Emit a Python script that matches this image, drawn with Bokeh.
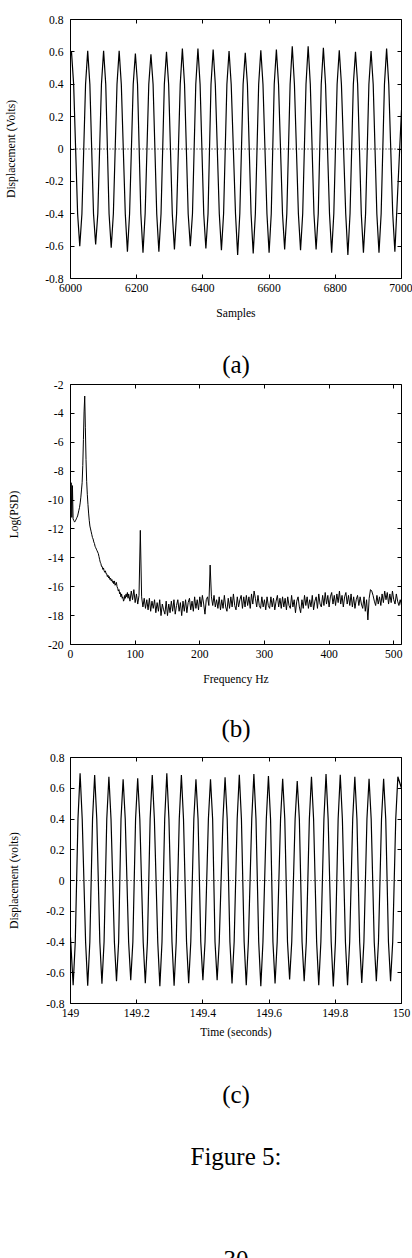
import numpy as np
from bokeh.plotting import figure
from bokeh.layouts import column
from bokeh.models import Range1d, LinearAxis, FixedTicker, CustomJSTickFormatter, Span
from bokeh.core.properties import value
from bokeh.embed import file_html
from bokeh.resources import INLINE

# ---------------- data ----------------
# (a) displacement vs samples : extrema
a_edge_x = [6000, 7000]
a_edge_y = [0.58, 0.24]
a_peak_x = [6003, 6052, 6100, 6147, 6196, 6243, 6290, 6338, 6385, 6431, 6479,
            6528, 6575, 6622, 6670, 6718, 6764, 6812, 6861, 6908, 6955]
a_peak_y = [0.600, 0.606, 0.606, 0.606, 0.590, 0.585, 0.600, 0.620, 0.620, 0.615, 0.605,
            0.595, 0.610, 0.615, 0.635, 0.635, 0.625, 0.610, 0.600, 0.605, 0.620]
a_trough_x = [6028, 6076, 6123, 6172, 6219, 6267, 6314, 6362, 6409, 6456, 6505,
              6552, 6600, 6647, 6695, 6742, 6789, 6838, 6885, 6932, 6980]
a_trough_y = [-0.600, -0.590, -0.610, -0.635, -0.640, -0.635, -0.620, -0.600, -0.615, -0.625, -0.655,
              -0.645, -0.640, -0.620, -0.625, -0.620, -0.640, -0.655, -0.640, -0.640, -0.635]
# width of each lobe where it crosses the +/-0.4 V level
a_flank_level = 0.4
a_flank_halfwidth = 6.5

# (b) log(PSD) vs frequency
psd_low_freq = list(range(0, 90))          # 1 Hz bins
psd_low_val = [
    -11.0, -8.8, -11.2, -9.0, -11.3, -11.4, -11.5, -11.5, -11.4, -11.3,
    -11.2, -11.1, -10.9, -10.7, -10.5, -10.2, -9.8, -9.3, -8.8, -7.6,
    -5.8, -3.9, -2.8, -5.0, -7.2, -8.7, -9.6, -10.3, -10.9, -11.4,
    -11.8, -12.0, -12.2, -12.4, -12.6, -12.7, -12.9, -13.0, -13.2, -13.3,
    -13.4, -13.5, -13.6, -13.7, -13.9, -14.1, -14.3, -14.4, -14.6, -14.6,
    -14.8, -14.7, -14.9, -15.0, -14.9, -15.1, -15.1, -15.3, -15.2, -15.4,
    -15.3, -15.5, -15.4, -15.6, -15.5, -15.7, -15.6, -15.8, -15.6, -15.9,
    -15.8, -15.7, -16.0, -16.1, -16.3, -16.2, -16.5, -16.4, -16.7, -16.5,
    -16.8, -16.7, -17.0, -16.9, -16.6, -16.8, -16.5, -16.7, -16.4, -16.8,
]
psd_high_freq = list(range(90, 513, 2))    # 2 Hz bins
psd_high_val = [
    -16.5, -17.0, -16.3, -16.9, -16.2, -17.1, -16.5, -17.2, -16.6, -12.1,
    -16.7, -17.4, -16.8, -17.5, -16.9, -17.6, -16.8, -17.7, -17.0, -17.5,
    -16.9, -17.8, -17.1, -17.7, -16.9, -18.0, -17.2, -17.6, -17.9, -17.0,
    -18.0, -17.2, -17.8, -17.0, -17.7, -16.9, -17.9, -17.3, -16.9, -17.7,
    -17.1, -18.0, -17.0, -17.7, -16.9, -17.8, -17.1, -16.8, -17.6, -17.0,
    -17.7, -16.7, -17.5, -16.9, -17.6, -16.7, -17.4, -16.6, -17.2, -17.9,
    -16.9, -16.7, -17.3, -14.5, -16.7, -17.3, -16.6, -17.4, -16.9, -17.5,
    -16.7, -17.6, -16.9, -17.5, -16.6, -17.4, -17.7, -16.8, -17.5, -16.7,
    -17.4, -16.5, -17.3, -17.6, -16.7, -17.4, -16.9, -16.6, -17.5, -16.7,
    -17.4, -16.6, -17.3, -16.7, -17.5, -16.5, -17.2, -16.3, -16.8, -17.4,
    -16.6, -17.3, -17.5, -16.7, -17.4, -16.9, -17.6, -16.7, -17.3, -17.5,
    -16.7, -17.4, -16.8, -17.6, -17.0, -16.6, -17.4, -16.8, -17.5, -16.7,
    -17.4, -16.8, -17.6, -16.7, -17.3, -17.5, -16.6, -17.4, -16.9, -17.8,
    -17.0, -16.7, -17.4, -17.8, -16.9, -17.5, -16.6, -17.3, -16.7, -17.5,
    -16.9, -17.4, -16.6, -17.6, -17.0, -16.7, -17.5, -16.5, -17.2, -17.4,
    -16.6, -17.3, -16.4, -17.2, -16.6, -17.4, -16.7, -16.4, -17.2, -16.6,
    -17.3, -16.5, -17.1, -16.3, -17.2, -16.6, -17.4, -16.7, -16.4, -17.2,
    -16.6, -17.3, -16.5, -17.4, -16.7, -17.5, -16.9, -16.6, -17.3, -16.7,
    -17.2, -17.5, -16.7, -17.7, -16.9, -18.3, -16.8, -16.2, -16.3, -16.6,
    -17.0, -17.3, -16.6, -17.2, -16.7, -17.3, -16.5, -17.1, -16.3, -16.9,
    -16.4, -17.2, -16.5, -17.1, -16.3, -16.9, -17.2, -16.5, -17.0, -17.3,
    -16.9, -17.3,
]

# (c) displacement vs time : extrema
c_edge_t = [149.0, 150.0]
c_edge_v = [-0.37, 0.60]
c_peak_t = [149.029, 149.073, 149.116, 149.159, 149.203, 149.247, 149.291, 149.335,
            149.379, 149.423, 149.467, 149.510, 149.554, 149.598, 149.641, 149.685,
            149.728, 149.772, 149.815, 149.859, 149.902, 149.946, 149.989]
c_peak_v = [0.697, 0.686, 0.675, 0.658, 0.665, 0.686, 0.697, 0.686, 0.658, 0.658, 0.671,
            0.688, 0.692, 0.680, 0.662, 0.647, 0.675, 0.692, 0.688, 0.675, 0.662, 0.662, 0.675]
c_trough_t = [149.008, 149.052, 149.095, 149.139, 149.182, 149.226, 149.270, 149.313,
              149.357, 149.400, 149.443, 149.488, 149.531, 149.575, 149.618, 149.662,
              149.706, 149.750, 149.794, 149.837, 149.880, 149.924, 149.967]
c_trough_v = [-0.681, -0.685, -0.672, -0.655, -0.648, -0.668, -0.687, -0.685, -0.668, -0.648, -0.648,
              -0.670, -0.681, -0.687, -0.670, -0.643, -0.655, -0.681, -0.689, -0.681, -0.666, -0.655, -0.655]
c_flank_level = 0.4
c_flank_halfwidth = 0.0064

a_xticks = [6000, 6200, 6400, 6600, 6800, 7000]
volt_ticks = [-0.8, -0.6, -0.4, -0.2, 0, 0.2, 0.4, 0.6, 0.8]
b_xticks = [0, 100, 200, 300, 400, 500]
b_yticks = [-20, -18, -16, -14, -12, -10, -8, -6, -4, -2]
c_xticks = [149, 149.2, 149.4, 149.6, 149.8, 150]

captions = ["(a)", "(b)", "(c)", "Figure 5:", "30"]

FONT = "Liberation Serif"
FS = "11.6px"
CAPFS = "25px"


def build_wave(edge_x, edge_y, peak_x, peak_y, trough_x, trough_y, hw, level):
    ex = np.concatenate([np.asarray(peak_x, float), np.asarray(trough_x, float)])
    ey = np.concatenate([np.asarray(peak_y, float), np.asarray(trough_y, float)])
    o = np.argsort(ex)
    ex, ey = ex[o], ey[o]
    xs, ys = [edge_x[0]], [edge_y[0]]
    for i in range(len(ex)):
        xs.append(ex[i]); ys.append(ey[i])
        if i < len(ex) - 1:
            xs.append(ex[i] + hw); ys.append(level * np.sign(ey[i]))
            xs.append(ex[i + 1] - hw); ys.append(level * np.sign(ey[i + 1]))
    xs.append(edge_x[1]); ys.append(edge_y[1])
    return xs, ys


fmt_code = "return String(parseFloat(tick.toFixed(4)));"


def panel(height, xr, yr, borders, xticks, yticks, xlabel, ylabel,
          ylab_off, ylabel_stand, xlab_off, xlabel_stand):
    t, b, l, r = borders
    p = figure(width=412, height=height, x_range=Range1d(*xr), y_range=Range1d(*yr),
               output_backend="svg", toolbar_location=None,
               min_border_top=t, min_border_bottom=b, min_border_left=l, min_border_right=r)
    p.background_fill_color = "white"
    p.border_fill_color = "white"
    p.outline_line_color = "black"
    p.outline_line_width = 1
    p.grid.visible = False
    p.xaxis.ticker = FixedTicker(ticks=xticks)
    p.yaxis.ticker = FixedTicker(ticks=yticks)
    for ax in (p.xaxis[0], p.yaxis[0]):
        ax.formatter = CustomJSTickFormatter(code=fmt_code)
        ax.axis_line_color = None
        ax.major_tick_in = 4
        ax.major_tick_out = 0
        ax.major_tick_line_color = "black"
        ax.minor_tick_line_color = None
        ax.major_label_text_font = FONT
        ax.major_label_text_font_size = FS
        ax.major_label_text_color = "black"
        ax.axis_label_text_font = FONT
        ax.axis_label_text_font_size = FS
        ax.axis_label_text_font_style = "normal"
        ax.axis_label_text_color = "black"
    p.xaxis.axis_label = xlabel
    p.yaxis.axis_label = ylabel
    p.yaxis.major_label_standoff = ylab_off
    p.yaxis.axis_label_standoff = ylabel_stand
    p.xaxis.major_label_standoff = xlab_off
    p.xaxis.axis_label_standoff = xlabel_stand
    # mirrored ticks on top and right
    for loc, tk in (("above", xticks), ("right", yticks)):
        ax = LinearAxis(ticker=FixedTicker(ticks=tk),
                        formatter=CustomJSTickFormatter(code="return '';"))
        ax.axis_line_color = None
        ax.major_tick_in = 4
        ax.major_tick_out = 0
        ax.major_tick_line_color = "black"
        ax.minor_tick_line_color = None
        ax.major_label_text_font_size = "0px"
        ax.major_label_standoff = 0
        p.add_layout(ax, loc)
    return p


def caption_fig(height, items):
    c = figure(width=412, height=height, x_range=Range1d(0, 412), y_range=Range1d(height, 0),
               output_backend="svg", toolbar_location=None, min_border=0)
    c.axis.visible = False
    c.grid.visible = False
    c.outline_line_color = None
    c.background_fill_color = "white"
    c.border_fill_color = "white"
    c.text(x=[206] * len(items), y=[it[1] for it in items], text=[it[0] for it in items],
           text_align="center", text_baseline="alphabetic",
           text_font=value(FONT), text_font_size=CAPFS, text_color="black")
    return c


# ---- panel (a)
pa = panel(340, (6000, 7000), (-0.8, 0.8), (19, 62, 70, 10), a_xticks, volt_ticks,
           "Samples", "Displacement (Volts)", 7, 24, 5, 12)
ax_, ay_ = build_wave(a_edge_x, a_edge_y, a_peak_x, a_peak_y, a_trough_x, a_trough_y,
                      a_flank_halfwidth, a_flank_level)
pa.add_layout(Span(location=0, dimension="width", line_color="black", line_width=1, line_dash="1 2"))
pa.line(ax_, ay_, line_color="black", line_width=1.2)

cap_a = caption_fig(40, [(captions[0], 24)])

# ---- panel (b)
pb = panel(315, (0, 512), (-20, -2), (4, 51, 70, 10), b_xticks, b_yticks,
           "Frequency Hz", "Log(PSD)", 7, 24, 5, 12)
bf = list(psd_low_freq) + list(psd_high_freq)
bv = list(psd_low_val) + list(psd_high_val)
pb.line(bf, bv, line_color="black", line_width=1)

cap_b = caption_fig(57, [(captions[1], 33)])

# ---- panel (c)
pc = panel(293, (149, 150), (-0.8, 0.8), (5, 42, 59, 11), c_xticks, volt_ticks,
           "Time (seconds)", "Displacement (volts)", 6, 22, 5, 6)
cx_, cy_ = build_wave(c_edge_t, c_edge_v, c_peak_t, c_peak_v, c_trough_t, c_trough_v,
                      c_flank_halfwidth, c_flank_level)
pc.add_layout(Span(location=0, dimension="width", line_color="black", line_width=1, line_dash="1 2"))
pc.line(cx_, cy_, line_color="black", line_width=1.2)

cap_c = caption_fig(213, [(captions[2], 49), (captions[3], 111), (captions[4], 214)])

layout = column(pa, cap_a, pb, cap_b, pc, cap_c, spacing=0)
open("out.html", "w").write(file_html(layout, INLINE))
